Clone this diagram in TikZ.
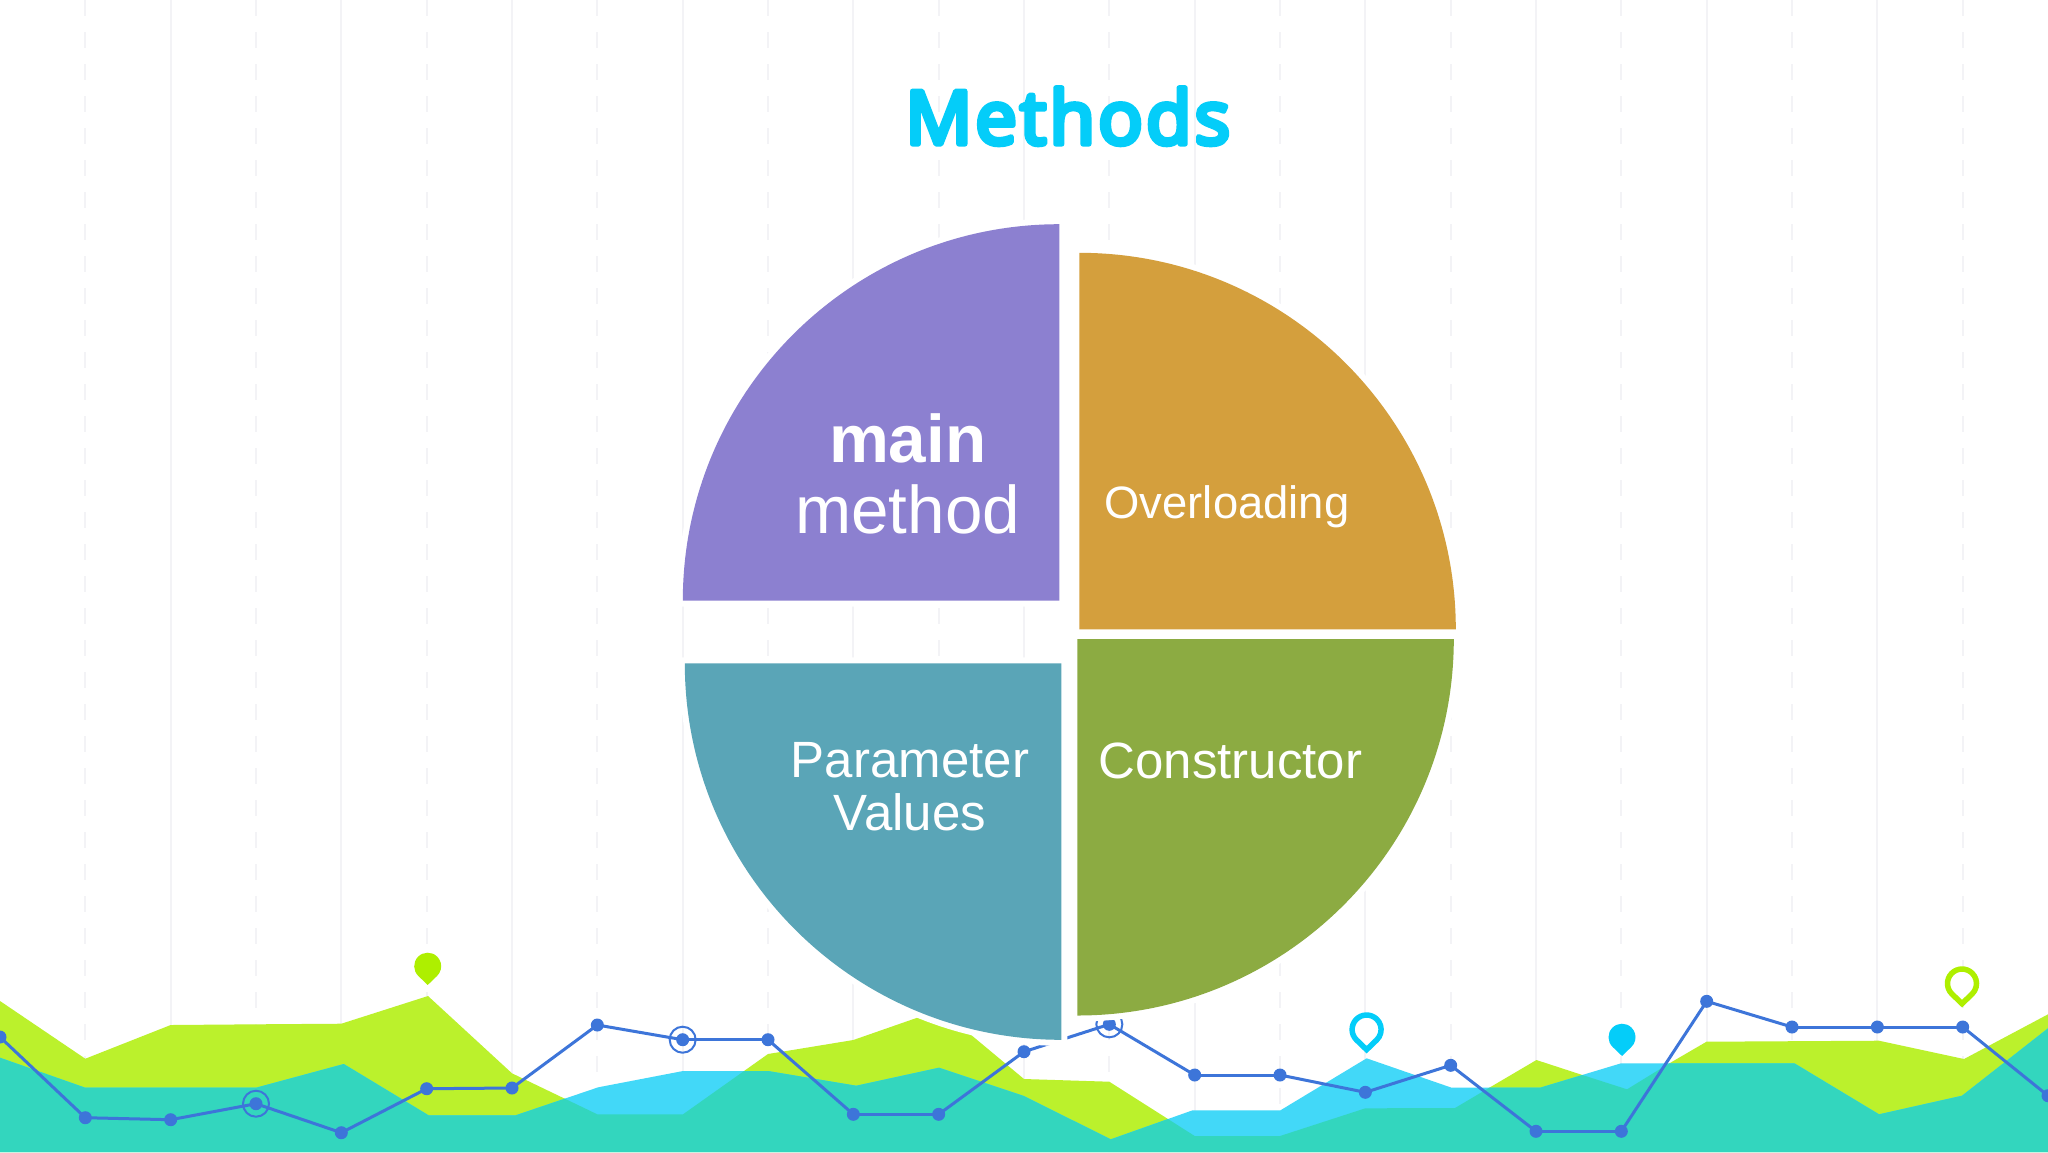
\documentclass[tikz,border=0pt]{standalone}
\usepackage{fontspec}
\setmainfont{Liberation Sans}
\newfontfamily\titlefont[RawFeature={embolden=7},LetterSpace=4.4]{Open Sans}
\definecolor{limearea}{RGB}{187,241,44}
\definecolor{cyanarea}{RGB}{66,216,248}
\definecolor{tealarea}{RGB}{51,214,190}
\definecolor{chartblue}{RGB}{61,117,217}
\definecolor{pinlime}{RGB}{174,239,0}
\definecolor{pincyan}{RGB}{4,205,249}
\definecolor{gridpale}{RGB}{243,243,246}
\definecolor{wedgepurple}{RGB}{140,128,208}
\definecolor{wedgeorange}{RGB}{212,159,61}
\definecolor{wedgeolive}{RGB}{140,171,66}
\definecolor{wedgeteal}{RGB}{90,165,183}
\tikzset{
  chartdot/.style={circle,fill=chartblue,inner sep=0pt,minimum size=6.5pt},
  chartring/.style={circle,draw=chartblue,line width=1pt,inner sep=0pt,minimum size=13pt},
  chartline/.style={draw=chartblue,line width=1.5pt},
  wedge/.style={preaction={draw=white,line width=6pt}},
  wedgetext/.style={text=white,inner sep=0pt,align=center},
}
\newcommand{\limeline}{(0,1001) -- (85.3,1058.7) -- (170.7,1025) -- (256,1024.3) -- (341.3,1023.7) -- (428,996) -- (512,1073.3) -- (597.3,1114.3) -- (683,1114.3) -- (768,1054) -- (853.3,1040) -- (918.4,1017.3) -- (970,1034) -- (1024,1079) -- (1109.3,1081.7) -- (1194.7,1136) -- (1280,1136) -- (1365.3,1108.3) -- (1455,1108) -- (1491,1086.7) -- (1536.4,1060) -- (1582.4,1075) -- (1627,1089.3) -- (1669.4,1063.3) -- (1706.5,1041.7) -- (1879,1040.7) -- (1964,1059) -- (2048,1014.3) -- (2048,1152) -- (0,1152) -- cycle}
\newcommand{\cyanline}{(0,1057.7) -- (85.3,1087.7) -- (256,1087.7) -- (343.8,1064) -- (428.6,1115.3) -- (515.6,1115.3) -- (598.2,1087.3) -- (683,1071) -- (768,1071) -- (856.3,1085.7) -- (939,1067.7) -- (1023.8,1096) -- (1110.8,1139.3) -- (1192.5,1110.3) -- (1280.4,1110.3) -- (1366.6,1058.3) -- (1451.6,1087.7) -- (1540,1087.7) -- (1621,1063.3) -- (1794.4,1063.3) -- (1879,1114.3) -- (1962,1095.7) -- (2048,1028.3) -- (2048,1152) -- (0,1152) -- cycle}
\newcommand{\pinpath}[1]{(0,{1.39*#1}) -- ({-0.695*#1},{0.72*#1}) arc[start angle=134,end angle=406,radius=#1] -- cycle}
\begin{document}
\begin{tikzpicture}[x=0.5pt,y=0.5pt,yscale=-1,xscale=1]
\useasboundingbox (0,0) rectangle (2048,1152);
\fill[white] (0,0) rectangle (2048,1152);

%Grid lines
\foreach \k in {1,3,...,23}
  \draw[gridpale,line width=1pt,dash pattern=on 8pt off 8pt] ({\k*85.333},0) -- ({\k*85.333},1152);
\foreach \k in {2,4,...,22}
  \draw[gridpale,line width=1pt] ({\k*85.333},0) -- ({\k*85.333},1152);

%Areas
\fill[limearea] \limeline;
\fill[cyanarea] \cyanline;
\begin{scope}
  \clip \limeline;
  \fill[tealarea] \cyanline;
\end{scope}

%Chart points
\foreach \k/\yy in {0/1037,1/1117.7,2/1119.7,3/1103.7,4/1132.7,5/1088.7,6/1088,7/1025,8/1039.7,9/1039.7,10/1114.3,11/1114.3,12/1051.7,13/1024.3,14/1075,15/1075,16/1092.3,17/1065.3,18/1131.3,19/1131.3,20/1001.3,21/1027,22/1027,23/1027,24/1095.7}
  \node[chartdot] (pt\k) at ({\k*85.333},\yy) {};
\foreach \a [remember=\a as \b (initially 0)] in {1,...,24}
  \draw[chartline] (pt\b.center) -- (pt\a.center);
\foreach \k in {3,8,13}
  \node[chartring] (ring\k) at (pt\k) {};

%Pins
\fill[pinlime,shift={(427.7,966.2)}] \pinpath{13.5};
\fill[pincyan,shift={(1622,1037.2)}] \pinpath{13.5};
\draw[pincyan,fill=white,line width=2.75pt,shift={(1366.6,1029.5)}] \pinpath{14.5};
\draw[pinlime,fill=white,line width=2.75pt,shift={(1962,983.5)}] \pinpath{14.5};

%Shape: Wedges
\path[wedge,fill=wedgepurple] (1059.3,600.7) -- (682.8,600.7) arc[start angle=180,end angle=270,radius=376.5] -- cycle;
\path[wedge,fill=wedgeorange] (1079.3,629.3) -- (1079.3,252.8) arc[start angle=270,end angle=360,radius=376.5] -- cycle;
\path[wedge,fill=wedgeolive] (1077.3,639) -- (1453.8,639) arc[start angle=0,end angle=90,radius=376.5] -- cycle;
\path[wedge,fill=wedgeteal] (1061.3,663.3) -- (1061.3,1039.8) arc[start angle=90,end angle=180,radius=376.5] -- cycle;

% Text Node
\node[text=pincyan,inner sep=0pt,anchor=base,font=\titlefont\fontsize{37}{37}\selectfont] (title) at (1067.7,144) {\special{pdf:code 1 j 1 J}Methods};
% Text Node
\node[wedgetext,font=\fontsize{33.7}{35.3}\selectfont] (mainlabel) at (907.7,474) {\textbf{main}\\method};
% Text Node
\node[wedgetext,anchor=base,font=\fontsize{22.7}{24}\selectfont] (overlabel) at (1227,518.7) {Overloading};
% Text Node
\node[wedgetext,font=\fontsize{25.5}{26.7}\selectfont] (paramlabel) at (910,786.5) {Parameter\\Values};
% Text Node
\node[wedgetext,anchor=base,font=\fontsize{25.5}{27}\selectfont] (conlabel) at (1230.5,778.3) {Constructor};
\end{tikzpicture}
\end{document}
